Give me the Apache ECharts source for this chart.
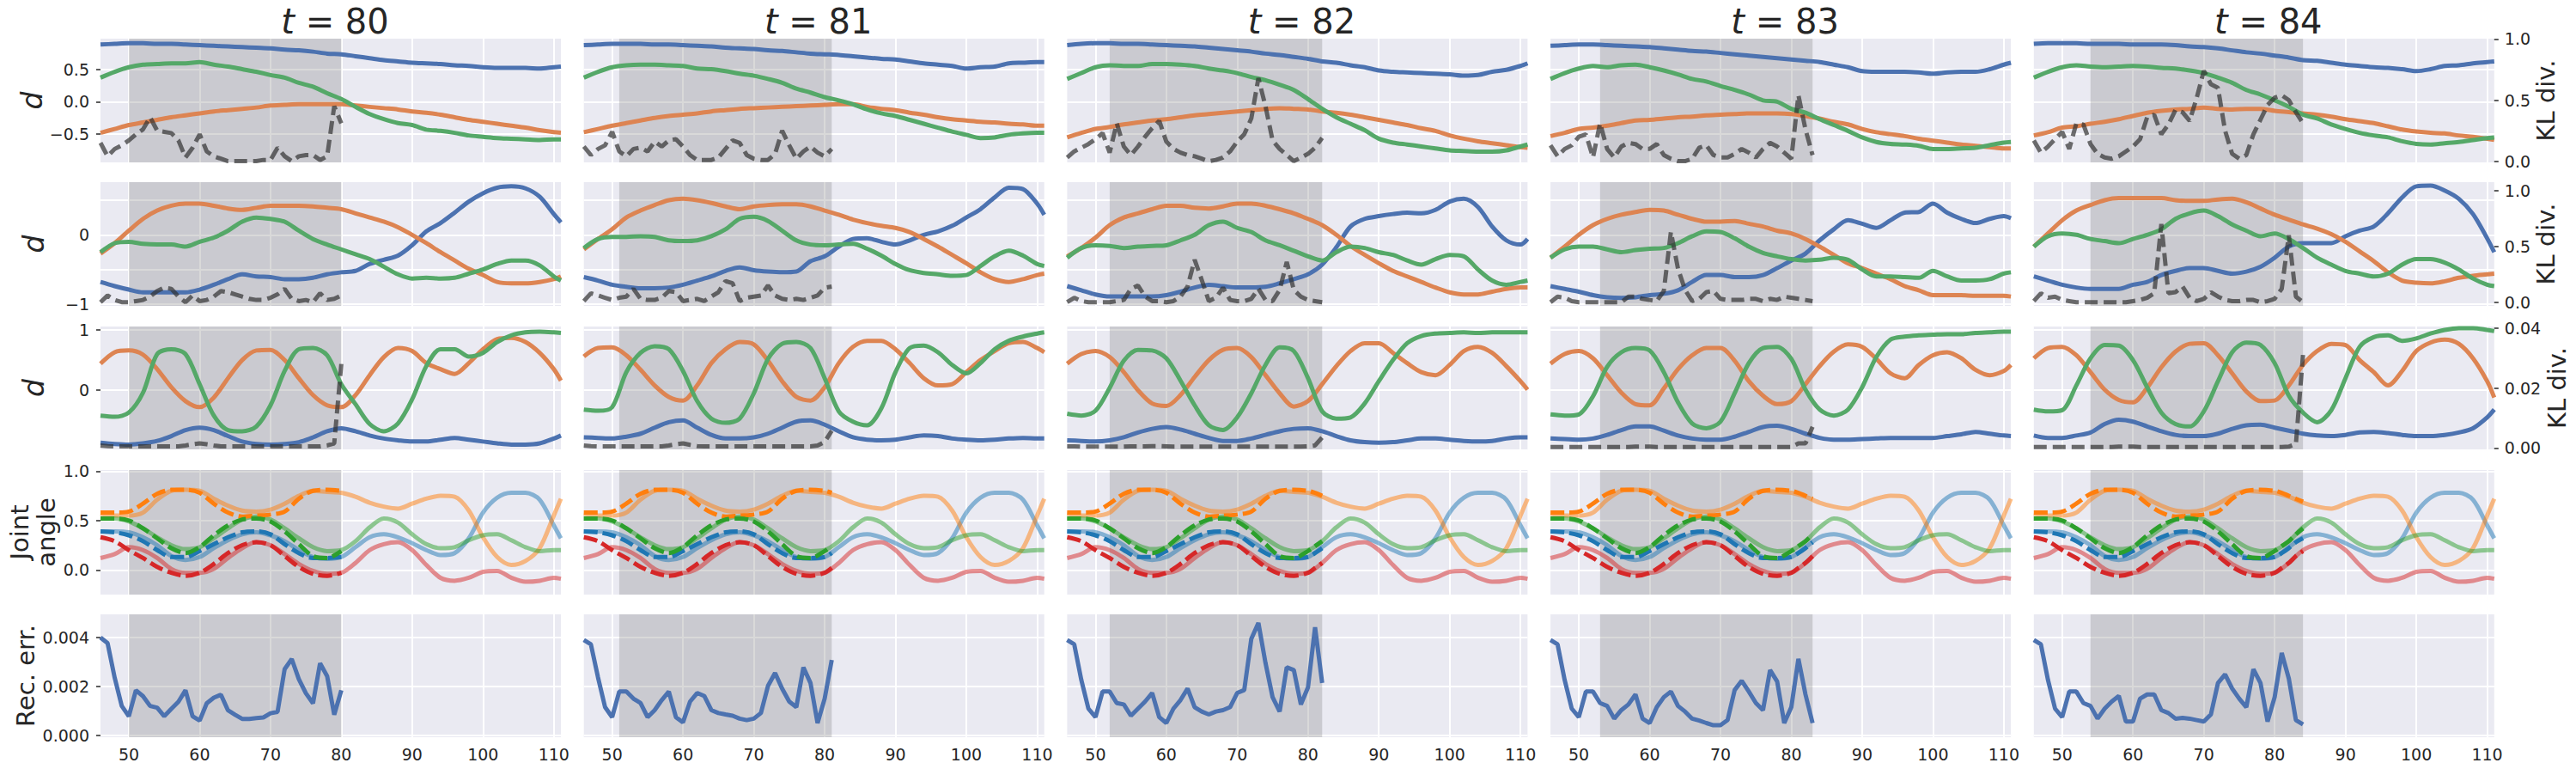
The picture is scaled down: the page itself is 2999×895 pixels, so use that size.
<!DOCTYPE html>
<html lang="en">
<head>
<meta charset="utf-8">
<title>Latent dimensions, joint angles and reconstruction error</title>
<script src="https://cdn.jsdelivr.net/npm/echarts@6/dist/echarts.min.js"></script>
<style>
    html, body { margin: 0; padding: 0; background: #ffffff; }
    #main { width: 2999px; height: 895px; }
</style>
</head>
<body>
<div id="main"></div>
<script>
    // columns: current time step t, shaded window = last 30 steps
    var steps = [80, 81, 82, 83, 84];
    var windowLen = 30;

    // x samples of the smooth curves
    var xs = [46, 48, 50, 52, 54, 56, 58, 60, 62, 64, 66, 68, 70, 72, 74, 76, 78, 80, 82, 84,
        86, 88, 90, 92, 94, 96, 98, 100, 102, 104, 106, 108, 110, 111];
    // x samples of the reconstructed joint angles (dashed)
    var xsRec = [46, 48, 50, 52, 54, 56, 58, 60, 62, 64, 66, 68, 70, 72, 74, 76, 78, 80, 81, 82, 83, 84];
    // integer steps for KL divergence and reconstruction error
    var tInt = [46, 47, 48, 49, 50, 51, 52, 53, 54, 55, 56, 57, 58, 59, 60, 61, 62, 63, 64, 65,
        66, 67, 68, 69, 70, 71, 72, 73, 74, 75, 76, 77, 78, 79, 80, 81, 82, 83, 84];
    var xTicks = [50, 60, 70, 80, 90, 100, 110];

    // ---- row 1 : d (first latent group) ----
    var d1_80_blue = [.88, .89, .90, .90, .89, .89, .88, .87, .86, .85, .84, .83, .82, .80, .79, .77, .74, .73, .70, .67, .64, .62, .60, .59, .58, .56, .55, .53, .52, .52, .52, .51, .53, .54];
    var d1_80_orange = [-.48, -.42, -.36, -.32, -.28, -.24, -.21, -.18, -.15, -.13, -.11, -.09, -.06, -.05, -.04, -.04, -.04, -.04, -.06, -.08, -.10, -.12, -.15, -.17, -.20, -.24, -.28, -.31, -.34, -.37, -.40, -.44, -.47, -.48];
    var d1_80_green = [.37, .46, .53, .57, .58, .59, .59, .61, .57, .54, .50, .46, .41, .37, .29, .23, .13, .04, -.08, -.19, -.27, -.33, -.36, -.43, -.45, -.48, -.52, -.54, -.56, -.57, -.58, -.59, -.58, -.58];
    var d1_81_blue = [.87, .88, .89, .89, .89, .88, .88, .87, .86, .85, .83, .82, .81, .79, .78, .76, .74, .73, .72, .70, .68, .66, .65, .62, .59, .57, .55, .51, .53, .54, .59, .60, .61, .61];
    var d1_81_orange = [-.47, -.42, -.37, -.33, -.29, -.25, -.22, -.20, -.18, -.15, -.13, -.11, -.10, -.09, -.08, -.07, -.06, -.05, -.04, -.04, -.08, -.11, -.13, -.17, -.20, -.24, -.27, -.29, -.31, -.32, -.34, -.35, -.37, -.37];
    var d1_81_green = [.37, .46, .53, .56, .57, .57, .56, .55, .51, .50, .47, .43, .40, .35, .29, .20, .14, .07, .02, -.04, -.12, -.18, -.22, -.28, -.34, -.40, -.46, -.51, -.56, -.55, -.51, -.49, -.48, -.48];
    var d1_82_blue = [.87, .89, .90, .90, .89, .89, .88, .87, .86, .85, .83, .81, .79, .77, .74, .72, .69, .66, .62, .60, .56, .53, .48, .46, .45, .44, .43, .42, .40, .41, .46, .49, .55, .59];
    var d1_82_orange = [-.55, -.48, -.42, -.39, -.35, -.32, -.29, -.27, -.24, -.21, -.19, -.17, -.15, -.13, -.11, -.10, -.11, -.12, -.15, -.17, -.20, -.24, -.28, -.32, -.36, -.41, -.45, -.52, -.57, -.61, -.64, -.67, -.70, -.71];
    var d1_82_green = [.35, .44, .53, .56, .55, .55, .58, .58, .57, .55, .51, .48, .44, .38, .33, .26, .18, .04, -.11, -.24, -.34, -.44, -.57, -.63, -.66, -.69, -.72, -.75, -.76, -.77, -.77, -.75, -.69, -.66];
    var d1_83_blue = [.86, .87, .88, .88, .87, .86, .85, .84, .82, .80, .78, .77, .75, .73, .71, .69, .67, .65, .63, .61, .57, .53, .47, .46, .46, .46, .45, .43, .45, .46, .46, .50, .57, .60];
    var d1_83_orange = [-.53, -.48, -.42, -.40, -.37, -.33, -.29, -.28, -.26, -.24, -.23, -.21, -.20, -.19, -.18, -.18, -.18, -.19, -.22, -.26, -.31, -.35, -.42, -.47, -.50, -.53, -.57, -.60, -.63, -.66, -.68, -.70, -.72, -.72];
    var d1_83_green = [.35, .44, .51, .55, .53, .56, .57, .53, .48, .42, .35, .31, .24, .18, .11, .02, .0, -.11, -.17, -.27, -.36, -.45, -.55, -.62, -.65, -.66, -.68, -.73, -.73, -.72, -.71, -.67, -.63, -.62];
    var d1_84_blue = [.89, .90, .90, .90, .89, .89, .89, .88, .88, .88, .87, .85, .84, .82, .79, .76, .74, .71, .68, .64, .63, .60, .57, .55, .53, .52, .50, .47, .50, .55, .56, .59, .61, .62];
    var d1_84_orange = [-.52, -.47, -.40, -.38, -.34, -.31, -.27, -.22, -.17, -.14, -.12, -.11, -.09, -.11, -.12, -.11, -.11, -.14, -.16, -.18, -.20, -.23, -.27, -.30, -.33, -.38, -.43, -.46, -.48, -.49, -.52, -.54, -.57, -.59];
    var d1_84_green = [.37, .46, .53, .56, .54, .53, .54, .55, .54, .52, .51, .48, .44, .37, .29, .18, .11, .02, -.08, -.20, -.26, -.35, -.42, -.48, -.52, -.55, -.61, -.65, -.66, -.64, -.62, -.59, -.56, -.55];

    // ---- row 2 : d (second latent group) ----
    var d2_80_blue = [-.68, -.74, -.79, -.83, -.83, -.83, -.83, -.79, -.72, -.64, -.57, -.60, -.61, -.64, -.64, -.62, -.57, -.54, -.52, -.42, -.36, -.30, -.15, .05, .17, .32, .48, .60, .68, .70, .67, .55, .30, .18];
    var d2_80_orange = [-.27, -.12, .06, .23, .35, .42, .45, .45, .42, .38, .36, .39, .42, .42, .42, .41, .39, .37, .31, .25, .19, .11, .0, -.12, -.25, -.37, -.49, -.58, -.68, -.70, -.70, -.68, -.64, -.60];
    var d2_80_green = [-.25, -.12, -.10, -.13, -.14, -.14, -.17, -.10, -.04, .06, .19, .25, .23, .19, .06, -.06, -.14, -.21, -.28, -.35, -.46, -.57, -.63, -.62, -.63, -.62, -.56, -.50, -.42, -.37, -.37, -.44, -.60, -.66];
    var d2_81_blue = [-.61, -.66, -.72, -.75, -.77, -.77, -.76, -.72, -.66, -.60, -.52, -.47, -.51, -.53, -.54, -.53, -.38, -.31, -.17, -.06, -.05, -.10, -.14, -.08, .0, .05, .13, .25, .37, .54, .68, .66, .45, .29];
    var d2_81_orange = [-.21, -.06, .08, .25, .35, .43, .50, .52, .50, .46, .41, .37, .41, .43, .44, .44, .41, .35, .29, .22, .17, .13, .10, .04, -.06, -.17, -.29, -.41, -.54, -.64, -.68, -.64, -.58, -.56];
    var d2_81_green = [-.19, -.06, -.03, -.03, -.02, -.03, -.08, -.09, -.08, -.02, .08, .23, .26, .20, .06, -.08, -.14, -.15, -.14, -.13, -.20, -.30, -.42, -.51, -.55, -.57, -.59, -.58, -.45, -.31, -.23, -.30, -.42, -.45];
    var d2_82_blue = [-.74, -.80, -.86, -.89, -.89, -.89, -.89, -.87, -.82, -.76, -.72, -.74, -.76, -.76, -.75, -.70, -.64, -.57, -.43, -.18, .12, .23, .27, .30, .32, .31, .36, .48, .52, .40, .12, -.08, -.14, -.06];
    var d2_82_orange = [-.31, -.19, -.04, .14, .25, .31, .37, .42, .42, .39, .38, .41, .45, .45, .42, .37, .31, .23, .14, .0, -.16, -.29, -.41, -.52, -.60, -.68, -.76, -.83, -.86, -.86, -.82, -.78, -.76, -.76];
    var d2_82_green = [-.33, -.19, -.15, -.16, -.19, -.17, -.16, -.15, -.08, .0, .14, .19, .10, .04, -.08, -.15, -.23, -.31, -.37, -.25, -.17, -.19, -.25, -.29, -.37, -.43, -.35, -.29, -.31, -.50, -.66, -.72, -.68, -.66];
    var d2_83_blue = [-.74, -.78, -.82, -.87, -.90, -.91, -.90, -.87, -.85, -.80, -.68, -.58, -.58, -.61, -.61, -.58, -.48, -.37, -.27, -.08, .08, .21, .16, .10, .21, .32, .33, .45, .32, .23, .17, .23, .27, .24];
    var d2_83_orange = [-.33, -.17, .0, .14, .23, .29, .33, .36, .35, .29, .23, .19, .19, .20, .16, .12, .06, .02, -.06, -.17, -.29, -.41, -.48, -.56, -.64, -.74, -.80, -.87, -.87, -.87, -.88, -.88, -.88, -.89];
    var d2_83_green = [-.33, -.21, -.17, -.17, -.21, -.25, -.22, -.20, -.19, -.12, -.02, .05, .04, -.05, -.17, -.26, -.31, -.35, -.37, -.36, -.33, -.36, -.50, -.60, -.60, -.61, -.62, -.52, -.60, -.66, -.66, -.64, -.56, -.54];
    var d2_84_blue = [-.60, -.66, -.72, -.76, -.78, -.78, -.78, -.72, -.68, -.58, -.52, -.48, -.48, -.52, -.56, -.53, -.46, -.33, -.17, -.12, -.12, -.12, -.02, .06, .12, .31, .54, .70, .71, .64, .52, .30, -.05, -.25];
    var d2_84_orange = [-.17, .02, .21, .35, .43, .50, .53, .53, .53, .53, .50, .49, .49, .51, .52, .47, .38, .29, .22, .15, .09, .01, -.10, -.24, -.38, -.54, -.66, -.69, -.70, -.67, -.62, -.59, -.57, -.56];
    var d2_84_green = [-.17, -.02, .02, .0, -.06, -.09, -.12, -.06, .0, .08, .23, .31, .35, .27, .15, .06, -.02, .02, -.06, -.19, -.33, -.43, -.52, -.56, -.60, -.56, -.43, -.35, -.35, -.40, -.50, -.63, -.72, -.74];

    // ---- row 3 : d (third latent group) ----
    var d3_80_blue = [-.87, -.89, -.90, -.88, -.84, -.76, -.66, -.62, -.66, -.76, -.85, -.89, -.90, -.89, -.86, -.78, -.68, -.63, -.68, -.75, -.80, -.83, -.85, -.85, -.82, -.79, -.82, -.85, -.88, -.90, -.90, -.88, -.80, -.75];
    var d3_80_orange = [.44, .63, .66, .59, .35, .05, -.18, -.28, -.12, .20, .50, .66, .67, .50, .20, -.08, -.25, -.28, -.08, .25, .55, .70, .65, .45, .35, .27, .45, .68, .85, .87, .80, .62, .35, .16];
    var d3_80_green = [-.42, -.44, -.37, -.04, .60, .68, .60, .10, -.42, -.66, -.68, -.60, -.25, .32, .68, .70, .58, .10, -.23, -.56, -.68, -.55, -.15, .40, .68, .68, .56, .62, .80, .91, .96, .97, .96, .95];
    var d3_81_blue = [-.78, -.79, -.80, -.77, -.72, -.62, -.53, -.50, -.62, -.74, -.80, -.80, -.78, -.72, -.62, -.52, -.50, -.57, -.68, -.78, -.82, -.83, -.82, -.78, -.75, -.76, -.80, -.82, -.83, -.82, -.80, -.79, -.80, -.80];
    var d3_81_orange = [.56, .70, .71, .58, .34, .08, -.11, -.17, .08, .45, .68, .80, .76, .49, .15, -.11, -.17, .05, .45, .72, .82, .82, .68, .45, .20, .08, .10, .30, .50, .65, .78, .80, .70, .63];
    var d3_81_green = [-.32, -.34, -.28, .30, .62, .73, .68, .32, -.18, -.47, -.54, -.47, -.05, .52, .77, .80, .70, .20, -.35, -.52, -.58, -.30, .30, .70, .74, .63, .42, .28, .45, .68, .82, .89, .94, .96];
    var d3_82_blue = [-.83, -.84, -.85, -.83, -.78, -.70, -.64, -.61, -.65, -.72, -.79, -.84, -.84, -.80, -.74, -.68, -.64, -.63, -.68, -.76, -.83, -.86, -.87, -.86, -.83, -.80, -.80, -.82, -.84, -.85, -.84, -.80, -.78, -.78];
    var d3_82_orange = [.44, .60, .65, .55, .30, .0, -.22, -.26, -.08, .22, .50, .67, .70, .55, .25, -.05, -.27, -.18, .10, .40, .65, .78, .78, .62, .45, .30, .25, .42, .65, .72, .62, .40, .15, .01];
    var d3_82_green = [-.39, -.42, -.34, .04, .49, .67, .66, .53, .16, -.25, -.58, -.66, -.45, -.05, .42, .71, .65, .20, -.35, -.47, -.45, -.22, .15, .50, .78, .90, .94, .95, .96, .95, .96, .96, .96, .96];
    var d3_83_blue = [-.80, -.81, -.82, -.80, -.74, -.66, -.60, -.60, -.67, -.75, -.80, -.82, -.82, -.77, -.69, -.61, -.59, -.64, -.72, -.79, -.82, -.82, -.81, -.80, -.79, -.79, -.79, -.79, -.76, -.73, -.69, -.72, -.75, -.76];
    var d3_83_orange = [.44, .60, .65, .53, .25, -.04, -.23, -.25, .03, .35, .58, .70, .70, .49, .15, -.09, -.23, -.18, .10, .40, .64, .76, .72, .52, .28, .20, .42, .58, .63, .53, .34, .25, .32, .42];
    var d3_83_green = [-.40, -.42, -.40, -.10, .39, .63, .70, .66, .30, -.20, -.55, -.63, -.52, -.05, .45, .70, .72, .52, .01, -.32, -.42, -.32, .05, .55, .84, .89, .91, .92, .93, .93, .95, .96, .97, .97];
    var d3_84_blue = [-.75, -.79, -.79, -.75, -.70, -.56, -.49, -.52, -.60, -.68, -.74, -.76, -.76, -.72, -.64, -.58, -.57, -.62, -.67, -.72, -.75, -.76, -.74, -.70, -.69, -.71, -.74, -.76, -.76, -.74, -.70, -.63, -.45, -.32];
    var d3_84_orange = [.53, .70, .72, .58, .30, .01, -.16, -.20, .04, .38, .64, .77, .78, .58, .28, -.02, -.18, -.17, .08, .42, .65, .77, .75, .50, .30, .08, .32, .65, .79, .84, .77, .53, .15, -.12];
    var d3_84_green = [-.32, -.35, -.33, .08, .53, .75, .74, .50, .05, -.37, -.56, -.60, -.35, .15, .63, .79, .75, .45, -.09, -.37, -.53, -.33, .20, .72, .88, .91, .82, .86, .94, 1.0, 1.03, 1.03, 1.0, .98];

    // ---- KL divergence (right axis, dashed), one value per step up to t ----
    var kl1_80 = [.15, .04, .10, .13, .17, .22, .26, .36, .25, .24, .23, .17, .03, .11, .22, .08, .04, .02, 0, 0, 0, 0, 0, .01, .01, .11, .04, 0, .04, .05, .05, .01, .04, .45, .31];
    var kl1_81 = [.12, .05, .10, .13, .24, .08, .04, .10, .11, .08, .16, .12, .17, .18, .12, .05, .01, .01, .01, .03, .10, .17, .15, .05, .02, .01, .01, .06, .25, .13, .02, .08, .12, .07, .04, .10];
    var kl1_82 = [.03, .08, .11, .14, .18, .23, .07, .31, .12, .05, .12, .20, .27, .33, .16, .10, .07, .05, .04, .02, 0, .01, .03, .08, .16, .22, .35, .68, .45, .17, .10, .05, 0, .03, .06, .11, .19];
    var kl1_83 = [.13, .04, .10, .13, .20, .22, .03, .31, .10, .03, .12, .15, .14, .10, .10, .14, .05, .02, 0, 0, .02, .11, .13, .05, .03, .03, .06, .10, .07, .03, .10, .15, .12, .07, .02, .54, .26, .05];
    var kl1_84 = [.17, .07, .12, .18, .24, .10, .31, .30, .14, .06, .03, .02, .04, .08, .12, .18, .36, .38, .22, .30, .42, .40, .33, .52, .74, .63, .60, .25, .06, .02, .05, .22, .34, .46, .52, .54, .50, .40, .31];
    var kl2_80 = [0, .06, .02, 0, 0, .01, .02, .05, .10, .13, .12, .05, 0, .06, .01, .02, .05, .10, .09, .07, .05, .03, .02, .02, .04, .07, .12, .03, .01, .02, 0, .08, .02, .03, .06];
    var kl2_81 = [.01, .08, .06, .04, .02, .04, .05, .12, .03, .02, .02, .04, .10, .09, .01, .02, .03, .01, .05, .09, .19, .17, .01, .04, .05, .06, .15, .06, .03, .02, .03, .02, .04, .06, .13, .14];
    var kl2_82 = [0, .04, .01, 0, 0, 0, 0, .01, .02, .12, .15, .05, .01, .01, 0, .01, .05, .14, .38, .20, .01, .04, .13, .02, .01, .01, .03, .12, .02, .01, .11, .36, .11, .05, .02, .01, 0];
    var kl2_83 = [0, .05, .04, .01, 0, 0, 0, 0, 0, 0, 0, .05, .05, .03, .02, .01, .10, .63, .30, .11, .01, .03, .09, .10, .03, .02, .02, .02, .03, .03, .01, .03, .02, .05, .04, .03, .02, .01];
    var kl2_84 = [.01, .08, .04, .05, .02, .01, 0, 0, 0, 0, 0, 0, 0, 0, .01, .02, .04, .08, .70, .08, .09, .14, .04, .01, .03, .09, .05, .02, .01, .01, .02, .02, 0, .01, .03, .12, .60, .05, 0];
    var kl3_80 = [.0008, .0006, .0005, .0005, .0005, .0005, .0005, .0005, .0005, .0005, .0005, .0005, .0008, .0012, .0015, .0012, .0008, .0005, .0005, .0005, .0005, .0005, .0005, .0005, .0005, .0005, .0005, .0005, .0005, .0005, .0005, .0005, .0008, .0015, .028];
    var kl3_81 = [.0008, .0006, .0005, .0005, .0005, .0005, .0005, .0005, .0005, .0005, .0005, .0005, .0008, .0012, .0015, .0010, .0006, .0005, .0005, .0005, .0005, .0005, .0005, .0005, .0005, .0005, .0005, .0005, .0005, .0005, .0005, .0005, .0005, .0008, .0020, .0057];
    var kl3_82 = [.0005, .0005, .0004, .0004, .0004, .0004, .0004, .0004, .0004, .0005, .0005, .0005, .0006, .0006, .0005, .0004, .0004, .0004, .0004, .0004, .0004, .0004, .0004, .0004, .0004, .0004, .0004, .0004, .0004, .0004, .0004, .0004, .0004, .0004, .0005, .0008, .0035];
    var kl3_83 = [.0003, .0003, .0003, .0003, .0003, .0003, .0003, .0003, .0003, .0003, .0003, .0003, .0004, .0004, .0004, .0003, .0003, .0003, .0003, .0003, .0003, .0003, .0003, .0003, .0003, .0003, .0003, .0003, .0003, .0003, .0003, .0003, .0003, .0003, .0003, .0015, .0015, .0070];
    var kl3_84 = [.0003, .0003, .0003, .0003, .0003, .0003, .0003, .0003, .0003, .0003, .0003, .0003, .0004, .0004, .0004, .0003, .0003, .0003, .0003, .0003, .0003, .0003, .0003, .0003, .0003, .0003, .0003, .0003, .0003, .0003, .0003, .0003, .0003, .0003, .0003, .0003, .0004, .0013, .0310];

    // ---- joint angles: ground truth (light solid) and reconstruction (dashed) ----
    var jointBlue = [.39, .39, .38, .33, .25, .14, .10, .13, .22, .30, .36, .38, .35, .29, .20, .13, .11, .13, .23, .33, .36, .33, .27, .20, .15, .17, .32, .58, .73, .78, .78, .71, .45, .32];
    var jointOrange = [.57, .55, .55, .58, .71, .80, .81, .80, .72, .65, .60, .59, .61, .67, .75, .80, .79, .78, .74, .68, .64, .62, .67, .72, .75, .74, .60, .33, .13, .05, .09, .22, .55, .72];
    var jointGreen = [.52, .52, .49, .42, .33, .25, .21, .23, .32, .42, .51, .54, .51, .42, .32, .23, .19, .20, .29, .43, .52, .48, .36, .26, .22, .23, .30, .35, .36, .30, .23, .19, .20, .20];
    var jointRed = [.12, .16, .23, .20, .12, .01, -.03, -.03, .01, .12, .22, .28, .25, .16, .06, -.01, -.04, -.03, .07, .20, .26, .28, .20, .05, -.08, -.11, -.08, -.02, -.01, -.08, -.12, -.11, -.08, -.09];
    var recBlue = [.39, .38, .35, .29, .20, .13, .13, .19, .26, .33, .38, .39, .36, .26, .17, .12, .12, .13, .17, .22, .28, .32];
    var recOrange = [.58, .58, .59, .67, .77, .81, .81, .78, .67, .58, .54, .55, .56, .59, .72, .80, .81, .80, .78, .75, .72, .69];
    var recGreen = [.52, .52, .50, .42, .32, .22, .17, .23, .35, .45, .51, .52, .49, .39, .26, .14, .12, .19, .24, .29, .36, .42];
    var recRed = [.33, .29, .20, .12, .03, -.03, -.06, -.03, .06, .17, .25, .28, .25, .14, .03, -.04, -.06, -.03, .02, .07, .14, .19];

    // ---- reconstruction error, one value per step up to t ----
    var err_80 = [.0040, .00377, .00236, .0012, .00078, .00184, .0016, .0012, .00113, .00078, .00108, .00137, .00184, .00078, .0006, .00131, .00154, .00166, .00102, .00084, .00067, .00067, .0007, .00073, .0009, .00096, .00271, .00312, .0023, .00172, .00131, .00295, .00242, .00084, .00184];
    var err_81 = [.0039, .00372, .00237, .00115, .00074, .00179, .00179, .0015, .00132, .00074, .00103, .00144, .00179, .00074, .00053, .00138, .00173, .00161, .00103, .00091, .00085, .0008, .00068, .00062, .00068, .00091, .00202, .00255, .00191, .00138, .00115, .00278, .00214, .0005, .0015, .00308];
    var err_82 = [.0039, .00372, .00226, .00109, .00074, .00179, .00179, .00132, .00126, .0008, .00109, .00138, .00173, .00074, .0005, .00109, .00144, .00191, .00115, .00097, .00085, .00097, .00103, .00115, .00173, .00185, .00395, .0046, .00296, .00156, .00097, .00278, .00267, .00126, .00196, .00442, .00214];
    var err_83 = [.0039, .00372, .00226, .00109, .00074, .00179, .00179, .00132, .0012, .00068, .00103, .00126, .00167, .00068, .0005, .00115, .00156, .00179, .0012, .00097, .00068, .0006, .0005, .00041, .00041, .00062, .00185, .00223, .00179, .00132, .00103, .00267, .0022, .0005, .00115, .00313, .00167, .0005];
    var err_84 = [.0039, .00372, .00226, .00109, .00074, .00179, .00179, .00132, .0012, .00068, .00109, .00138, .00161, .00056, .00056, .0015, .00167, .00167, .00103, .00091, .00068, .00071, .00068, .00062, .00056, .00085, .00214, .00249, .00191, .0015, .00115, .0027, .00214, .00056, .00156, .00337, .00232, .00062, .00044];

    // per column lookup
    var dRows = [
        [[d1_80_blue, d1_80_orange, d1_80_green], [d1_81_blue, d1_81_orange, d1_81_green], [d1_82_blue, d1_82_orange, d1_82_green], [d1_83_blue, d1_83_orange, d1_83_green], [d1_84_blue, d1_84_orange, d1_84_green]],
        [[d2_80_blue, d2_80_orange, d2_80_green], [d2_81_blue, d2_81_orange, d2_81_green], [d2_82_blue, d2_82_orange, d2_82_green], [d2_83_blue, d2_83_orange, d2_83_green], [d2_84_blue, d2_84_orange, d2_84_green]],
        [[d3_80_blue, d3_80_orange, d3_80_green], [d3_81_blue, d3_81_orange, d3_81_green], [d3_82_blue, d3_82_orange, d3_82_green], [d3_83_blue, d3_83_orange, d3_83_green], [d3_84_blue, d3_84_orange, d3_84_green]]
    ];
    var klRows = [
        [kl1_80, kl1_81, kl1_82, kl1_83, kl1_84],
        [kl2_80, kl2_81, kl2_82, kl2_83, kl2_84],
        [kl3_80, kl3_81, kl3_82, kl3_83, kl3_84]
    ];
    var errCols = [err_80, err_81, err_82, err_83, err_84];

    // layout (px)
    var colLeft = [117, 679.7, 1242.4, 1805.1, 2367.8];
    var colWidth = 536;
    var rowTop = [45, 212, 380, 547, 715];
    var rowHeight = [144, 144, 143, 145, 143];
    var yMin = [-0.935, -1.025, -0.98, -0.25, -0.00008];
    var yMax = [0.97, 0.76, 1.057, 1.011, 0.00495];
    var yGrid = [[-0.5, 0, 0.5], [-1, -0.5, 0, 0.5], [-1, 0, 1], [0, 0.5, 1], [0, 0.002, 0.004]];
    var yTicks = [[-0.5, 0, 0.5], [-1, 0], [-1, 0, 1], [0, 0.5, 1], [0, 0.002, 0.004]];
    var yDigits = [1, 0, 0, 1, 3];
    var yNames = ['d', 'd', 'd', 'Joint\nangle', 'Rec. err.'];
    var yNameGap = [62, 62, 62, 48, 70];
    var klMin = [-0.01, -0.033, -0.0005];
    var klMax = [1.003, 1.075, 0.0405];
    var klTicks = [[0, 0.5, 1], [0, 0.5, 1], [0, 0.02, 0.04]];
    var klDigits = [1, 1, 2];

    var deep = ['#4C72B0', '#DD8452', '#55A868'];
    var tab = {blue: '#1f77b4', orange: '#ff7f0e', green: '#2ca02c', red: '#d62728'};
    var ink = '#262626';
    var font = 'DejaVu Sans';
    var lw = 5;

    function fmt(digits, shown) {
        return function (v) {
            if (shown.indexOf(v) < 0) return '';
            return v.toFixed(digits).replace('-', '\u2212');
        };
    }

    function pairs(xArr, yArr) {
        return yArr.map(function (v, i) {
            return [xArr[i], v];
        });
    }

    // grey band over the encoder window [t - 30, t]
    function shade(g, yi, t) {
        return {
            type: 'line', xAxisIndex: g, yAxisIndex: yi, data: [], z: 3, silent: true,
            markArea: {
                silent: true,
                itemStyle: {color: 'rgba(128,128,128,0.3)'},
                data: [[{xAxis: t - windowLen}, {xAxis: t}]]
            }
        };
    }

    var grids = [], xAxes = [], yAxes = [], series = [];

    steps.forEach(function (t, c) {
        for (var r = 0; r < 5; r++) {
            var g = grids.length;
            grids.push({
                left: colLeft[c], top: rowTop[r], width: colWidth, height: rowHeight[r],
                show: true, backgroundColor: '#EAEAF2', borderWidth: 0
            });
            xAxes.push({
                type: 'value', gridIndex: g, min: 46, max: 111,
                axisLine: {show: false},
                axisTick: {show: false, customValues: xTicks},
                axisLabel: {show: r === 4, customValues: xTicks, margin: 10, fontSize: 19, fontFamily: font, color: ink},
                splitLine: {show: true, lineStyle: {color: '#ffffff', width: 2}}
            });
            var yl = yAxes.length;
            yAxes.push({
                type: 'value', gridIndex: g, position: 'left', min: yMin[r], max: yMax[r],
                axisLine: {show: false},
                axisTick: {show: c === 0 && r !== 1, length: 5, customValues: yGrid[r], lineStyle: {color: ink, width: 1.5}},
                axisLabel: {show: c === 0, customValues: yGrid[r], formatter: fmt(yDigits[r], yTicks[r]), margin: 13, fontSize: 19, fontFamily: font, color: ink},
                splitLine: {show: true, lineStyle: {color: '#ffffff', width: 2}},
                name: c === 0 ? yNames[r] : '',
                nameLocation: 'middle', nameRotate: 90, nameGap: yNameGap[r],
                nameTextStyle: {fontSize: r < 3 ? 33 : 29, fontStyle: r < 3 ? 'italic' : 'normal', fontFamily: font, color: ink, lineHeight: 31}
            });

            if (r < 3) {
                var yr = yAxes.length;
                yAxes.push({
                    type: 'value', gridIndex: g, position: 'right', min: klMin[r], max: klMax[r],
                    axisLine: {show: false},
                    axisTick: {show: c === 4, length: 5, customValues: klTicks[r], lineStyle: {color: ink, width: 1.5}},
                    axisLabel: {show: c === 4, customValues: klTicks[r], formatter: fmt(klDigits[r], klTicks[r]), margin: 12, fontSize: 19, fontFamily: font, color: ink},
                    splitLine: {show: false},
                    name: c === 4 ? 'KL div.' : '',
                    nameLocation: 'middle', nameRotate: 90, nameGap: 44,
                    nameTextStyle: {fontSize: 29, fontFamily: font, color: ink}
                });
                var lines = dRows[r][c];
                for (var k = 0; k < 3; k++) {
                    series.push({
                        type: 'line', xAxisIndex: g, yAxisIndex: yl, data: pairs(xs, lines[k]),
                        showSymbol: false, smooth: 0.3, z: 2, silent: true,
                        lineStyle: {color: deep[k], width: lw}
                    });
                }
                series.push(shade(g, yl, t));
                series.push({
                    type: 'line', xAxisIndex: g, yAxisIndex: yr, data: pairs(tInt, klRows[r][c]),
                    showSymbol: false, z: 4, silent: true,
                    lineStyle: {color: 'rgba(50,50,50,0.7)', width: lw, type: [15, 7]}
                });
            } else if (r === 3) {
                var gt = [[jointBlue, tab.blue], [jointOrange, tab.orange], [jointGreen, tab.green], [jointRed, tab.red]];
                gt.forEach(function (p) {
                    series.push({
                        type: 'line', xAxisIndex: g, yAxisIndex: yl, data: pairs(xs, p[0]),
                        showSymbol: false, smooth: 0.3, z: 2, silent: true,
                        lineStyle: {color: p[1], width: lw, opacity: 0.5}
                    });
                });
                var nRec = xsRec.filter(function (x) { return x <= t; }).length;
                var rc = [[recBlue, tab.blue], [recOrange, tab.orange], [recGreen, tab.green], [recRed, tab.red]];
                rc.forEach(function (p) {
                    series.push({
                        type: 'line', xAxisIndex: g, yAxisIndex: yl, data: pairs(xsRec, p[0].slice(0, nRec)),
                        showSymbol: false, smooth: 0.3, z: 2, silent: true,
                        lineStyle: {color: p[1], width: lw, type: [16, 6]}
                    });
                });
                series.push(shade(g, yl, t));
            } else {
                series.push({
                    type: 'line', xAxisIndex: g, yAxisIndex: yl, data: pairs(tInt, errCols[c]),
                    showSymbol: false, z: 2, silent: true,
                    lineStyle: {color: deep[0], width: lw}
                });
                series.push(shade(g, yl, t));
            }
        }
    });

    var titles = steps.map(function (t, c) {
        return {
            text: '{it|t} = ' + t,
            left: colLeft[c] + colWidth / 2, top: 0, textAlign: 'center',
            textStyle: {
                fontSize: 40, fontFamily: font, fontWeight: 'normal', color: ink,
                rich: {it: {fontSize: 40, fontFamily: font, fontStyle: 'italic', color: ink}}
            }
        };
    });

    var myChart = echarts.init(document.getElementById('main'), null, {renderer: 'svg'});
    myChart.setOption({
        animation: false,
        backgroundColor: '#ffffff',
        title: titles,
        grid: grids,
        xAxis: xAxes,
        yAxis: yAxes,
        series: series
    });
</script>
</body>
</html>
